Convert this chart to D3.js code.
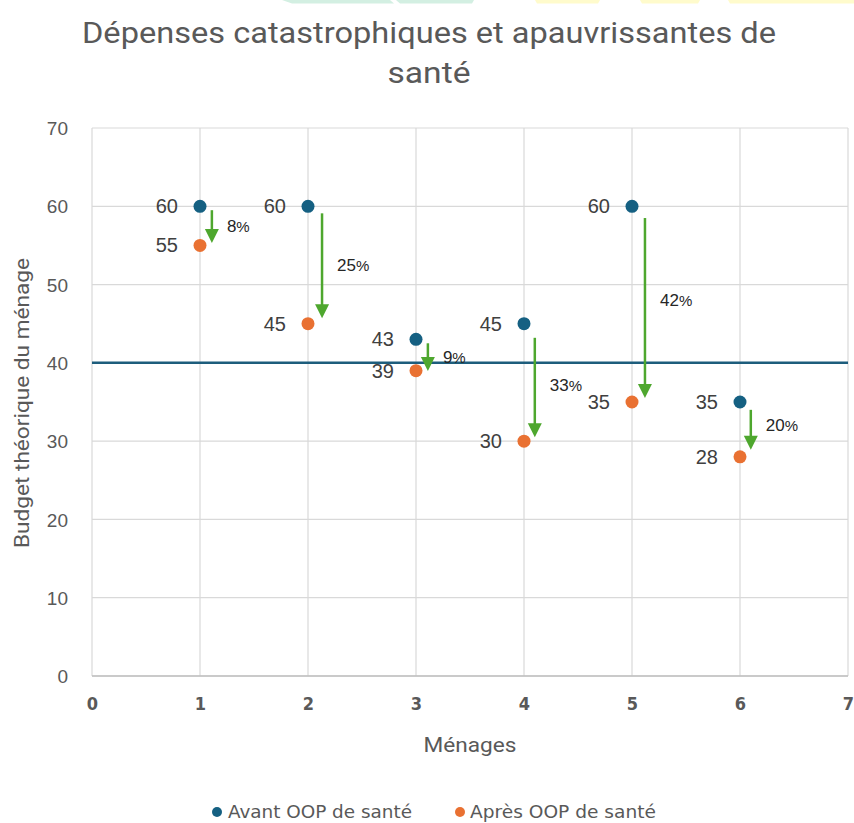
<!DOCTYPE html>
<html><head><meta charset="utf-8">
<script src="https://cdn.jsdelivr.net/npm/d3@7"></script>
<style>body{margin:0;background:#fff}svg{display:block}</style>
</head><body>
<script>
const menages = [1, 2, 3, 4, 5, 6];
const avant = [60, 60, 43, 45, 60, 35];
const apres = [55, 45, 39, 30, 35, 28];
const pourcentages = ["8", "25", "9", "33", "42", "20"];
const arrowStart = [59.5, 59.1, 42.5, 43.2, 58.5, 34.0];
const arrowEnd = [55.3, 45.7, 38.95, 30.5, 35.5, 28.9];
const arrowX = [1.11, 2.13, 3.11, 4.1, 5.12, 6.1];
const labelPos = [57.5, 52.5, 40.8, 37.2, 48.0, 32.0];
const seuil = 40;
const xTicks = [0, 1, 2, 3, 4, 5, 6, 7];
const yTicks = [0, 10, 20, 30, 40, 50, 60, 70];

const W = 854, H = 823;
const svg = d3.select("body").append("svg").attr("width", W).attr("height", H);
const x = d3.scaleLinear().domain([0, 7]).range([92, 848]);
const y = d3.scaleLinear().domain([0, 70]).range([676, 128]);

// faint decorative shapes at top (cut-off banner)
const deco = svg.append("g");
deco.append("path").attr("d", "M282,0 L390,0 L394,3.5 L292,3.5 Z").attr("fill", "#d3efe2");
deco.append("path").attr("d", "M396,0 L474,0 L472,3.5 L400,3.5 Z").attr("fill", "#d3efe2");
deco.append("path").attr("d", "M535,0 L600,0 L598,3.5 L537,3.5 Z").attr("fill", "#fffbcc");
deco.append("path").attr("d", "M640,0 L700,0 L698,3.5 L642,3.5 Z").attr("fill", "#fffbcc");
deco.append("path").attr("d", "M728,0 L854,0 L854,3.5 L730,3.5 Z").attr("fill", "#fffbcc");

// title
const tf = "Roboto, 'Noto Sans', sans-serif";
svg.append("text").attr("x", 429).attr("y", 43).attr("text-anchor", "middle").attr("fill", "#595959")
  .style("font-family", tf).style("font-size", "30px")
  .attr("textLength", 694).attr("lengthAdjust", "spacingAndGlyphs")
  .text("Dépenses catastrophiques et apauvrissantes de");
svg.append("text").attr("x", 429).attr("y", 83).attr("text-anchor", "middle").attr("fill", "#595959")
  .style("font-family", tf).style("font-size", "30px")
  .attr("textLength", 83).attr("lengthAdjust", "spacingAndGlyphs")
  .text("santé");

// grid
const g = svg.append("g");
g.selectAll(".hg").data(yTicks).join("line")
  .attr("x1", x(0)).attr("x2", x(7)).attr("y1", d => y(d)).attr("y2", d => y(d))
  .attr("stroke", "#d9d9d9").attr("stroke-width", 1.2);
g.selectAll(".vg").data(xTicks).join("line")
  .attr("x1", d => x(d)).attr("x2", d => x(d)).attr("y1", y(0)).attr("y2", y(70))
  .attr("stroke", "#d9d9d9").attr("stroke-width", 1.2);
g.append("line").attr("x1", x(0)).attr("x2", x(7)).attr("y1", y(0)).attr("y2", y(0))
  .attr("stroke", "#bfbfbf").attr("stroke-width", 1.5);

// axes labels via d3 axes
const yAxis = svg.append("g").attr("transform", `translate(${x(0) - 24},0)`)
  .call(d3.axisLeft(y).tickValues(yTicks).tickSize(0).tickPadding(0));
yAxis.select(".domain").remove();
yAxis.selectAll("text").attr("fill", "#595959").style("font-family", "'Liberation Sans', Arial, sans-serif")
  .style("font-size", "19px").attr("dy", "0.35em");

const xAxis = svg.append("g").attr("transform", `translate(0,${y(0) + 21})`)
  .call(d3.axisBottom(x).tickValues(xTicks).tickSize(0).tickPadding(0).tickFormat(d3.format("d")));
xAxis.select(".domain").remove();
xAxis.selectAll("text").attr("fill", "#595959").style("font-family", "'Liberation Sans Narrow', 'DejaVu Sans Condensed', sans-serif")
  .style("font-size", "18px").style("font-weight", "bold").attr("dy", "0.71em");

// axis titles
svg.append("text").attr("x", 470).attr("y", 752).attr("text-anchor", "middle").attr("fill", "#595959")
  .style("font-family", tf).style("font-size", "20px")
  .attr("textLength", 93).attr("lengthAdjust", "spacingAndGlyphs").text("Ménages");
svg.append("text").attr("transform", "translate(29,403) rotate(-90)").attr("text-anchor", "middle").attr("fill", "#595959")
  .style("font-family", tf).style("font-size", "20px")
  .attr("textLength", 290).attr("lengthAdjust", "spacingAndGlyphs").text("Budget théorique du ménage");

// threshold line
svg.append("line").attr("x1", x(0)).attr("x2", x(7)).attr("y1", y(seuil)).attr("y2", y(seuil))
  .attr("stroke", "#1d5d7c").attr("stroke-width", 2.5);

// arrows
const green = "#4ea72e";
const ag = svg.append("g");
menages.forEach((m, i) => {
  const ax = x(arrowX[i]);
  const y1 = y(arrowStart[i]), y2 = y(arrowEnd[i]);
  ag.append("line").attr("x1", ax).attr("x2", ax).attr("y1", y1).attr("y2", y2 - 12)
    .attr("stroke", green).attr("stroke-width", 2.5);
  ag.append("path").attr("d", `M${ax - 7},${y2 - 14} L${ax + 7},${y2 - 14} L${ax},${y2} Z`).attr("fill", green);
  const t = ag.append("text").attr("x", ax + 15).attr("y", y(labelPos[i])).attr("dy", "0.35em")
    .attr("fill", "#262626").style("font-family", "'Liberation Sans', Arial, sans-serif").style("font-size", "17px");
  t.append("tspan").text(pourcentages[i]);
  t.append("tspan").style("font-size", "15px").text("%");
});

// points
const pf = "'Liberation Sans', Arial, sans-serif";
svg.selectAll(".pa").data(menages).join("circle")
  .attr("cx", d => x(d)).attr("cy", (d, i) => y(avant[i])).attr("r", 6.5).attr("fill", "#156082");
svg.selectAll(".pb").data(menages).join("circle")
  .attr("cx", d => x(d)).attr("cy", (d, i) => y(apres[i])).attr("r", 6.5).attr("fill", "#e97132");
svg.selectAll(".la").data(menages).join("text")
  .attr("x", d => x(d) - 22).attr("y", (d, i) => y(avant[i])).attr("dy", "0.35em").attr("text-anchor", "end")
  .attr("fill", "#404040").style("font-family", pf).style("font-size", "20px").text((d, i) => avant[i]);
svg.selectAll(".lb").data(menages).join("text")
  .attr("x", d => x(d) - 22).attr("y", (d, i) => y(apres[i])).attr("dy", "0.35em").attr("text-anchor", "end")
  .attr("fill", "#404040").style("font-family", pf).style("font-size", "20px").text((d, i) => apres[i]);

// legend
const lg = svg.append("g").style("font-family", "'Liberation Sans Narrow', 'DejaVu Sans Condensed', sans-serif")
  .style("font-size", "18px").attr("fill", "#595959");
lg.append("circle").attr("cx", 217).attr("cy", 812).attr("r", 5).attr("fill", "#156082");
lg.append("text").attr("x", 228).attr("y", 818).attr("textLength", 184).attr("lengthAdjust", "spacingAndGlyphs").text("Avant OOP de santé");
lg.append("circle").attr("cx", 460).attr("cy", 812).attr("r", 5).attr("fill", "#e97132");
lg.append("text").attr("x", 470).attr("y", 818).attr("textLength", 186).attr("lengthAdjust", "spacingAndGlyphs").text("Après OOP de santé");
</script>
</body></html>
